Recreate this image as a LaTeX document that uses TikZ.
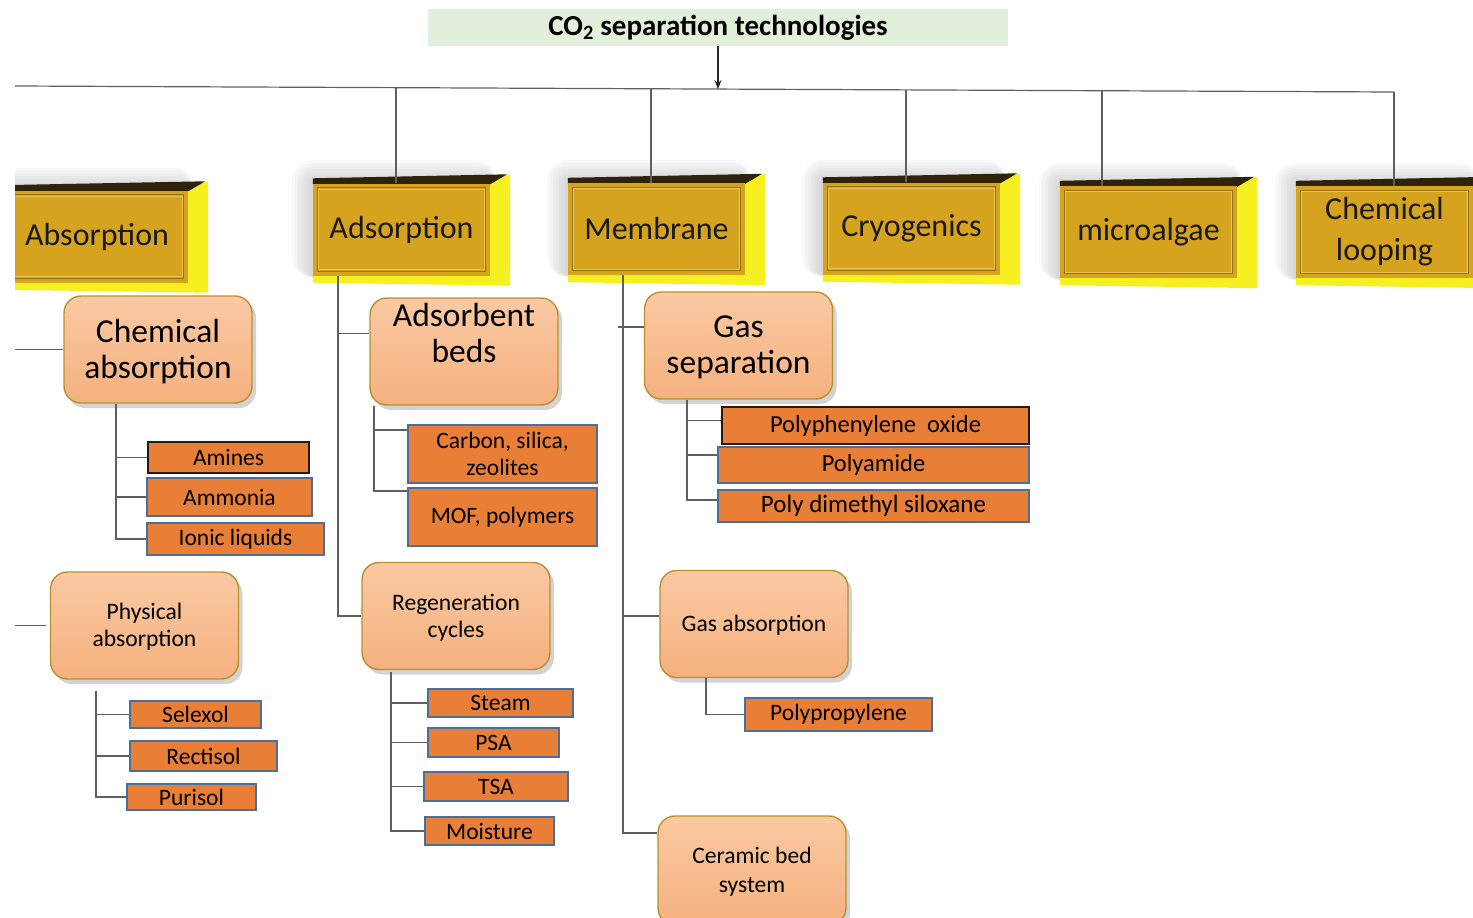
\documentclass[tikz,border=0pt]{standalone}
\usepackage{fontspec}
\setmainfont{Carlito}
\usetikzlibrary{shadows,calc,arrows.meta}
\pgfdeclarelayer{background}
\pgfsetlayers{background,main}
\definecolor{titlegreen}{HTML}{E2EFDA}
\definecolor{gold}{HTML}{D5A31E}
\definecolor{goldin}{HTML}{EDC453}
\definecolor{ysidec}{HTML}{F7F021}
\definecolor{ytop}{HTML}{2E2208}
\definecolor{peachT}{HTML}{FAC9A2}
\definecolor{peachB}{HTML}{F5B17F}
\definecolor{peachD}{HTML}{B8912E}
\definecolor{orfill}{HTML}{E97F36}
\definecolor{orbord}{HTML}{4A6F9A}
\definecolor{connc}{HTML}{5F5F5F}
\tikzset{
 ybox/.style={fill=gold, inner sep=0pt, minimum width=177, minimum height=92, text=black!90, font=\fontsize{32}{41}\selectfont, align=center},
 pbig/.style={rounded corners=17pt, draw=peachD, line width=1.4pt, top color=peachT, bottom color=peachB, drop shadow={shadow xshift=4pt, shadow yshift=-5pt, opacity=0.35}, minimum width=188, minimum height=107, align=center, inner sep=0pt, text depth=1pt, font=\fontsize{33.5}{36}\selectfont},
 psmall/.style={pbig, text depth=0.6pt, font=\fontsize{23.6}{27}\selectfont},
 obox/.style={fill=orfill, draw=orbord, line width=1.3pt, inner sep=0pt, align=center, font=\fontsize{23.5}{27}\selectfont},
 odark/.style={obox, draw=black!80!brown},
 conn/.style={draw=connc, line width=1.2pt},
}
\begin{document}
\begin{tikzpicture}[x=1pt,y=-1pt]
\useasboundingbox (0,0) rectangle (1473,918);
\begin{scope}
\clip (15,-20) rectangle (1490,940);

% title
\node[fill=titlegreen, minimum width=580, minimum height=37, inner sep=0pt, font=\bfseries\fontsize{29}{30}\selectfont] (title) at (718,27.5) {CO\textsubscript{2} separation technologies};

% yellow category boxes
\node[ybox, minimum width=193] (absorption) at (91.5,236.5) {\hspace*{11pt}Absorption};
\node[ybox] (adsorption) at (401.5,229.5) {Adsorption};
\node[ybox] (membrane) at (656.5,229) {Membrane};
\node[ybox] (cryogenics) at (911.5,228.5) {Cryogenics};
\node[ybox] (microalgae) at (1148.5,232) {microalgae};
\node[ybox] (looping) at (1384.5,232) {Chemical\\looping};

\begin{pgfonlayer}{background}
\begin{scope}
\clip (15,-20) rectangle (1490,940);
\foreach \n in {absorption,adsorption,membrane,cryogenics,microalgae,looping}{
  \foreach \i in {3,6,...,21}
    \fill[black,opacity=0.022,rounded corners=\i pt] ([shift={(-\i pt,\i pt+2pt)}]\n.north west) rectangle ([shift={(0.3*\i pt,-0.1*\i pt)}]\n.south east);
}
\foreach \n in {absorption,adsorption,membrane,cryogenics,microalgae,looping}{
  \fill[ysidec] ([yshift=3pt]\n.south west) -- ([yshift=3pt]\n.south east) -- ([yshift=3pt]\n.north east)
     -- ([xshift=20pt,yshift=9pt]\n.north east) -- ([xshift=20pt,yshift=-10pt]\n.south east)
     -- ([yshift=-7pt]\n.south west) -- cycle;
  \fill[ytop] ([yshift=-1pt]\n.north west) -- ([yshift=5pt]\n.north west)
     -- ([xshift=17pt,yshift=9pt]\n.north east) -- ([yshift=-1pt]\n.north east) -- cycle;
}
\end{scope}
\end{pgfonlayer}
\foreach \n in {absorption,adsorption,membrane,cryogenics,microalgae,looping}{
  \draw[gold!70!black, line width=0.7pt] ([shift={(4.5pt,-4.5pt)}]\n.north west) rectangle ([shift={(-4.5pt,4.5pt)}]\n.south east);
  \draw[goldin, line width=1.2pt] ([shift={(6pt,-6pt)}]\n.north west) rectangle ([shift={(-6pt,6pt)}]\n.south east);
}

% peach boxes
\node[pbig] (chemabs) at (158,349.5) {Chemical\\absorption};
\node[pbig] (adsbeds) at (464,351.5) {Adsorbent\\beds\\\strut};
\node[pbig] (gassep) at (738.5,345.5) {Gas\\separation};
\node[psmall] (physabs) at (144.5,625.5) {Physical\\absorption};
\node[psmall] (regen) at (456,616) {Regeneration\\cycles};
\node[psmall] (gasabs) at (754,624) {Gas absorption};
\node[psmall, font=\fontsize{23.6}{29}\selectfont, minimum height=109] (ceramic) at (752,870.5) {Ceramic bed\\system};

% orange boxes
\node[odark, minimum width=161, minimum height=31] (amines) at (228.5,457.5) {Amines};
\node[obox, minimum width=165, minimum height=38] (ammonia) at (229.5,497) {Ammonia};
\node[obox, minimum width=177, minimum height=32] (ionic) at (235.5,539) {Ionic liquids};
\node[obox, minimum width=189, minimum height=58] (carbon) at (502.5,454) {Carbon, silica,\\zeolites};
\node[obox, minimum width=189, minimum height=58] (mof) at (502.5,517) {MOF, polymers};
\node[odark, minimum width=307, minimum height=37, font=\fontsize{24.5}{27}\selectfont] (ppo) at (875.5,425.5) {Polyphenylene\ \ oxide};
\node[obox, minimum width=311, minimum height=36, font=\fontsize{24.5}{27}\selectfont] (polyamide) at (873.5,465) {Polyamide};
\node[obox, minimum width=311, minimum height=32, font=\fontsize{25}{27}\selectfont] (pdms) at (873.5,506) {Poly dimethyl siloxane};
\node[obox, minimum width=131, minimum height=27] (selexol) at (195.5,714.5) {Selexol};
\node[obox, minimum width=147, minimum height=30] (rectisol) at (203.5,756) {Rectisol};
\node[obox, minimum width=129, minimum height=26] (purisol) at (191.5,797) {Purisol};
\node[obox, minimum width=145, minimum height=28] (steam) at (500.5,703) {Steam};
\node[obox, minimum width=131, minimum height=29] (psa) at (493.5,742.5) {PSA};
\node[obox, minimum width=144, minimum height=29] (tsa) at (496,786.5) {TSA};
\node[obox, minimum width=129, minimum height=28] (moisture) at (489.5,831) {Moisture};
\node[obox, minimum width=187, minimum height=33] (polyprop) at (838.5,714.5) {Polypropylene};

% top connectors
\coordinate (hlL) at (15,86);
\coordinate (hlR) at (1394,92);
\coordinate (hMid) at (718,89.1);
\coordinate (hAds) at (396,87.7);
\coordinate (hMem) at (651,88.8);
\coordinate (hCry) at (906,89.9);
\coordinate (hMic) at (1102,90.7);
\draw[conn] (hlL) -- (hlR);
\draw[conn, black!85, line width=1.1pt, -{Stealth[length=9pt,width=7pt]}] (title.south) -- (hMid);
\draw[conn] (hAds) -- (hAds |- adsorption.north);
\draw[conn] (hMem) -- (hMem |- membrane.north);
\draw[conn] (hCry) -- (hCry |- cryogenics.north);
\draw[conn] (hMic) -- (hMic |- microalgae.north);
\draw[conn] (hlR) -- (hlR |- looping.north);

% absorption branch
\coordinate (absA) at (15,349.5);
\coordinate (absB) at (15,625.5);
\draw[conn] (absA) -- (chemabs.west);
\draw[conn] (absB) -- ([xshift=-4pt]physabs.west);
\coordinate (t1) at ([xshift=-42pt]chemabs.south);
\draw[conn] (t1) |- (amines.west);
\draw[conn] (t1) |- (ammonia.west);
\draw[conn] (t1) |- (ionic.west);
\coordinate (t2) at ([xshift=-48.5pt,yshift=-11pt]physabs.south);
\draw[conn] (t2) |- (selexol.west);
\draw[conn] (t2) |- (rectisol.west);
\draw[conn] (t2) |- (purisol.west);

% adsorption branch
\coordinate (t3) at ([xshift=-63.5pt]adsorption.south);
\draw[conn] (t3) |- ([yshift=18pt]adsbeds.west);
\draw[conn] (t3) |- (regen.west);
\coordinate (t4) at ([xshift=-90pt]adsbeds.south);
\draw[conn] (t4) |- ([yshift=24pt]carbon.west);
\draw[conn] (t4) |- ([yshift=26pt]mof.west);
\coordinate (t5) at ([xshift=-65pt,yshift=-2pt]regen.south);
\draw[conn] (t5) |- (steam.west);
\draw[conn] (t5) |- (psa.west);
\draw[conn] (t5) |- (tsa.west);
\draw[conn] (t5) |- (moisture.west);

% membrane branch
\coordinate (t6) at ([xshift=-33.5pt]membrane.south);
\draw[conn] ([xshift=-5pt,yshift=18.5pt]gassep.west -| t6) -- ([yshift=18.5pt]gassep.west);
\draw[conn] (t6) |- ([yshift=8pt]gasabs.west);
\draw[conn] (t6) |- ([yshift=37.5pt]ceramic.west);
\coordinate (t7) at ([xshift=-51.5pt]gassep.south);
\draw[conn] (t7) |- ([yshift=5pt]ppo.west);
\draw[conn] (t7) |- ([yshift=10pt]polyamide.west);
\draw[conn] (t7) |- ([yshift=6pt]pdms.west);
\coordinate (t8) at ([xshift=-48pt]gasabs.south);
\draw[conn] (t8) |- (polyprop.west);
\end{scope}
\end{tikzpicture}
\end{document}
